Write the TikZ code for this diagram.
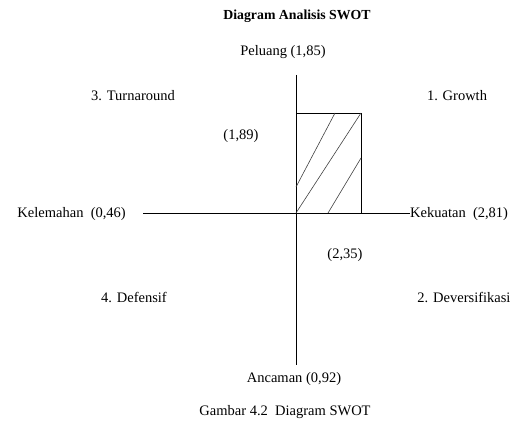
\documentclass[tikz,border=0pt]{standalone}
\usepackage{fontspec}
\setmainfont{Liberation Serif}
\begin{document}
\begin{tikzpicture}[x=1pt,y=-1pt,
  lbl/.style={inner sep=0pt,font=\fontsize{14.5}{16}\selectfont},
  ttl/.style={inner sep=0pt,font=\fontsize{13.8}{15}\selectfont\bfseries},
  axis/.style={line width=0.8pt,black},
  hatch/.style={line width=0.6pt,black!75}]
\useasboundingbox (0,0) rectangle (514,427);
\node[ttl] (title) at (297,16) {Diagram Analisis SWOT};
\node[lbl] (pel) at (283,52) {Peluang (1,85)};
\node[lbl] (q3) at (133,96) {3. Turnaround};
\node[lbl] (q1) at (457,96) {1. Growth};
\node[lbl] (v1) at (241,136) {(1,89)};
\node[lbl,anchor=east] (kel) at (126,214) {Kelemahan\ \ (0,46)};
\node[lbl,anchor=west] (kek) at (410,214) {Kekuatan\ \ (2,81)};
\node[lbl] (v2) at (345,255) {(2,35)};
\node[lbl] (q4) at (134,297) {4. Defensif};
\node[lbl] (q2) at (464,297) {2. Deversifikasi};
\node[lbl] (anc) at (294,379) {Ancaman (0,92)};
\node[lbl] (cap) at (285,412) {Gambar 4.2\ \ Diagram SWOT};
\coordinate (vt) at (296,75);
\coordinate (vb) at (296,365);
\coordinate (hl) at (143,213);
\coordinate (hr) at (kek.west|-hl);
\draw[axis] (vt) -- (vb);
\draw[axis] (hl) -- (hr);
\coordinate (o) at (296,213);
\coordinate (c) at (361,113);
\draw[axis] (o) rectangle (c);
\draw[hatch] (296,187) -- (335,113);
\draw[hatch] (o) -- (c);
\draw[hatch] (328,213) -- (361,158);
\end{tikzpicture}
\end{document}
